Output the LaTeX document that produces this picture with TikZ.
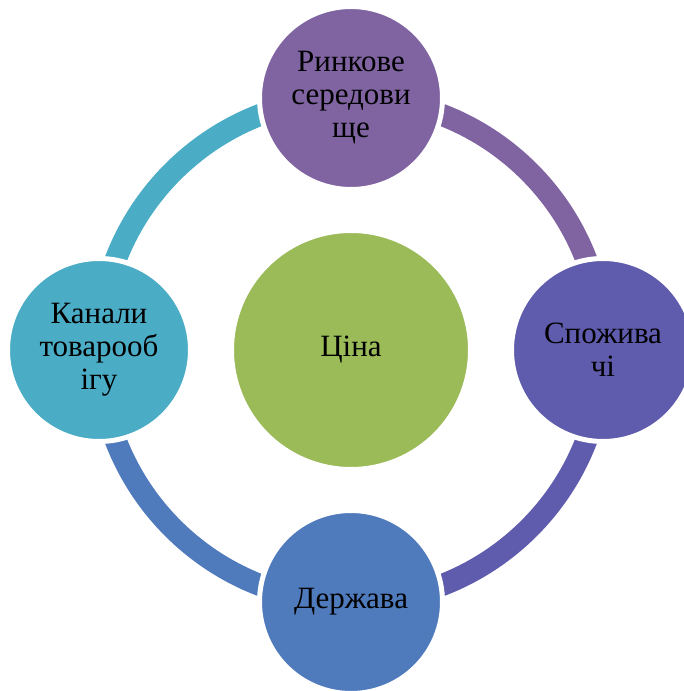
\documentclass[tikz,border=0pt]{standalone}
\usepackage{fontspec}
\setmainfont{Liberation Serif}
\usetikzlibrary{backgrounds}
\definecolor{cTop}{HTML}{8064A2}
\definecolor{cRight}{HTML}{5F5BAD}
\definecolor{cBottom}{HTML}{4F7BBD}
\definecolor{cLeft}{HTML}{4BACC6}
\definecolor{cCenter}{HTML}{9BBB59}
\tikzset{
  sat/.style={circle, draw=white, line width=5pt, minimum size=183pt, inner sep=0pt, outer sep=0pt,
    align=center, font=\fontsize{31}{33}\selectfont, text=black},
  hub/.style={sat, minimum size=239pt},
  ringarc/.style={line width=22pt, line cap=butt}
}
\begin{document}
\begin{tikzpicture}[x=1pt,y=1pt]
\useasboundingbox (0,0) rectangle (683,691);
\node[hub, fill=cCenter] (hubc) at (351,341) {Ціна};
\node[sat, fill=cTop] (top) at (351,593) {Ринкове\\середови\\ще};
\node[sat, fill=cRight] (right) at (603,341) {Спожива\\чі};
\node[sat, fill=cBottom] (bottom) at (351,89) {Держава};
\node[sat, fill=cLeft] (left) at (99,341) {Канали\\товарооб\\ігу};
\begin{scope}[on background layer]
\draw[ringarc, cTop] (top.center) arc[start angle=90, end angle=0, radius=252];
\draw[ringarc, cRight] (right.center) arc[start angle=0, end angle=-90, radius=252];
\draw[ringarc, cBottom] (bottom.center) arc[start angle=-90, end angle=-180, radius=252];
\draw[ringarc, cLeft] (left.center) arc[start angle=180, end angle=90, radius=252];
\end{scope}
\end{tikzpicture}
\end{document}
